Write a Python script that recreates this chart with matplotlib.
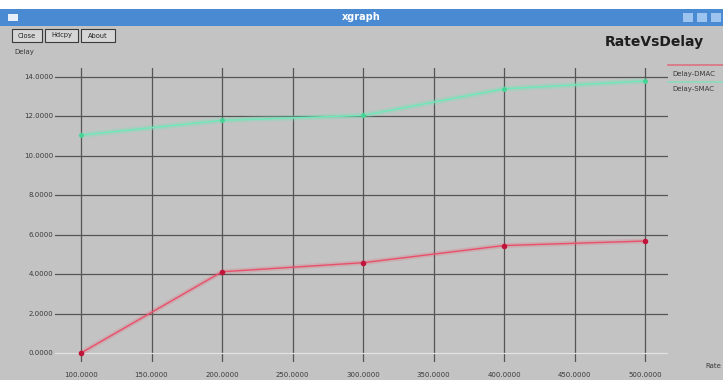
import matplotlib
matplotlib.use("Agg")
import matplotlib.pyplot as plt
from matplotlib.patches import Rectangle

# Data series
rate = [100, 200, 300, 400, 500]
delay_dmac = [0.0, 4.12, 4.58, 5.45, 5.68]
delay_smac = [11.05, 11.8, 12.05, 13.4, 13.8]

x_ticks = [100, 150, 200, 250, 300, 350, 400, 450, 500]
y_ticks = [0, 2, 4, 6, 8, 10, 12, 14]
x_labels = ["%.4f" % v for v in x_ticks]
y_labels = ["%.4f" % v for v in y_ticks]
legend_names = ["Delay-DMAC", "Delay-SMAC"]

W, H = 723, 380
BG = "#c3c3c3"
RED = "#e8506a"
GREEN = "#72e6b8"
GRID = "#555555"
TXT = "#3a3a3a"

fig = plt.figure(figsize=(W / 100, H / 100), dpi=100)
fig.patch.set_facecolor(BG)


def fx(px):
    return px / W


def fy(py):
    return 1 - py / H


# window decoration
fig.patches.append(Rectangle((0, fy(9)), 1, 9 / H, transform=fig.transFigure,
                             facecolor="white", edgecolor="none", zorder=0))
fig.patches.append(Rectangle((0, fy(26)), 1, 17 / H, transform=fig.transFigure,
                             facecolor="#4a8ad2", edgecolor="none", zorder=0))
fig.patches.append(Rectangle((fx(8), fy(21)), 10 / W, 7 / H, transform=fig.transFigure,
                             facecolor="#e6eef8", edgecolor="none", zorder=1))
for x0 in (683, 697, 711):
    fig.patches.append(Rectangle((fx(x0), fy(22)), 10 / W, 9 / H, transform=fig.transFigure,
                                 facecolor="#9cc4ee", edgecolor="none", zorder=1))
fig.text(0.5, fy(17), "xgraph", color="white", fontsize=7, fontweight="bold",
         ha="center", va="center")

# buttons
for (x0, x1, lab) in [(12, 42, "Close"), (45, 78, "Hdcpy"), (81, 115, "About")]:
    fig.patches.append(Rectangle((fx(x0), fy(42)), (x1 - x0) / W, 13 / H,
                                 transform=fig.transFigure, facecolor="#d6d6d6",
                                 edgecolor="#3a3a3a", linewidth=0.8, zorder=1))
    fig.text(fx((x0 + x1) / 2), fy(35.5), lab, fontsize=4.8, color="#222222",
             ha="center", va="center")

fig.text(fx(14), fy(52), "Delay", fontsize=5, color=TXT, ha="left", va="center")
fig.text(fx(654), fy(42), "RateVsDelay", fontsize=10, fontweight="semibold",
         color="#1e1e1e", ha="center", va="center")
fig.text(fx(705), fy(366), "Rate", fontsize=5, color=TXT, ha="left", va="center")

# plotting area
L, R, T, B = 55, 668, 68, 362
ax = fig.add_axes([fx(L), fy(B), (R - L) / W, (B - T) / H])
ax.set_facecolor(BG)
px_per_x = (645 - 81) / 400
px_per_y = (353 - 77) / 14
ax.set_xlim(100 - (81 - L) / px_per_x, 500 + (R - 645) / px_per_x)
ax.set_ylim(-(B - 353) / px_per_y, 14 + (77 - T) / px_per_y)
for s in ax.spines.values():
    s.set_visible(False)
ax.set_xticks([])
ax.set_yticks([])

for v in x_ticks:
    ax.axvline(v, color=GRID, lw=0.9, zorder=1)
for v in y_ticks:
    ax.axhline(v, color=("#e2e2e2" if v == 0 else GRID), lw=0.9, zorder=1)

ax.plot(rate, delay_smac, color=GREEN, lw=4, alpha=0.3, zorder=2, solid_capstyle="round")
ax.plot(rate, delay_smac, color=GREEN, lw=1.1, zorder=3, marker="o", ms=3.5,
        mfc="#45d495", mec="none")
ax.plot(rate, delay_dmac, color=RED, lw=3.5, alpha=0.2, zorder=2, solid_capstyle="round")
ax.plot(rate, delay_dmac, color=RED, lw=1.0, zorder=3, marker="o", ms=4,
        mfc="#c0143a", mec="none")

# tick labels
for v, lab in zip(x_ticks, x_labels):
    fig.text(fx(81 + (v - 100) * px_per_x), fy(375), lab, fontsize=5, color=TXT,
             ha="center", va="center")
for v, lab in zip(y_ticks, y_labels):
    fig.text(fx(53), fy(353 - v * px_per_y), lab, fontsize=5, color=TXT,
             ha="right", va="center")

# legend
fig.lines.append(plt.Line2D([fx(668), 1], [fy(65), fy(65)], transform=fig.transFigure,
                            color=RED, lw=1.2, alpha=0.7))
fig.text(fx(672), fy(74), legend_names[0], fontsize=5, color=TXT, ha="left", va="center")
fig.lines.append(plt.Line2D([fx(668), 1], [fy(82), fy(82)], transform=fig.transFigure,
                            color=GREEN, lw=1.2, alpha=0.7))
fig.text(fx(672), fy(89), legend_names[1], fontsize=5, color=TXT, ha="left", va="center")

fig.savefig("out.png", dpi=100, facecolor=fig.get_facecolor())
